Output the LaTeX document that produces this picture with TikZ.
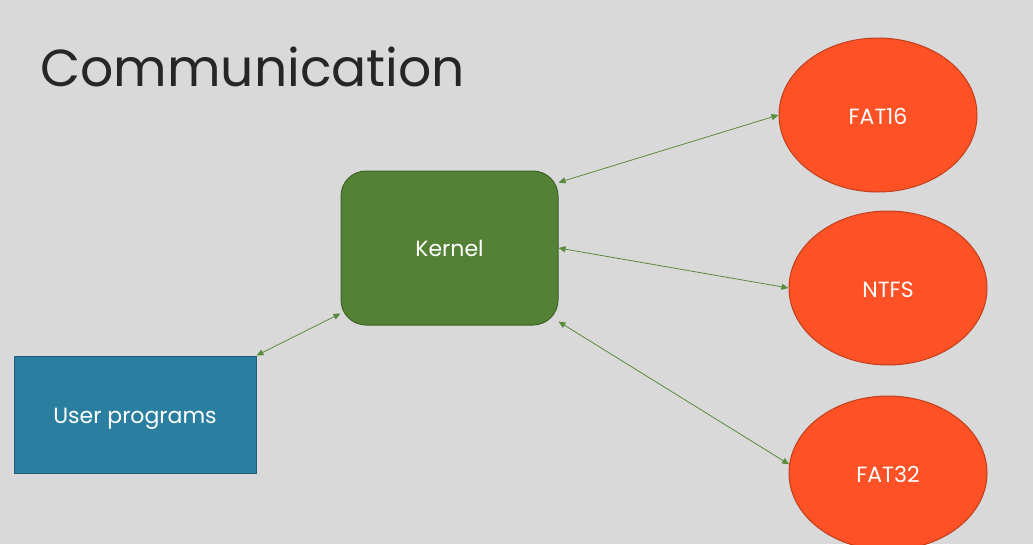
\documentclass[tikz,border=0pt]{standalone}
\usepackage{fontspec}
\setmainfont{Poppins}
\usetikzlibrary{shapes.geometric,arrows.meta}
\definecolor{bg}{HTML}{D9D9D9}
\definecolor{kgreen}{HTML}{538135}
\definecolor{kgreenb}{HTML}{3E6428}
\definecolor{ublue}{HTML}{2A7EA0}
\definecolor{ublueb}{HTML}{1F5F7A}
\definecolor{fsred}{HTML}{FF5126}
\definecolor{fsredb}{HTML}{C0401C}
\definecolor{arr}{HTML}{5A8A3C}
\definecolor{titlec}{HTML}{262626}
\begin{document}
\begin{tikzpicture}[x=1pt,y=-1pt,
  boxfont/.style={text=white,font=\fontsize{22}{26}\selectfont},
  kernelbox/.style={draw=kgreenb,fill=kgreen,rounded corners=25pt,minimum width=217pt,minimum height=154pt,line width=1pt,boxfont,inner sep=0pt},
  userbox/.style={draw=ublueb,fill=ublue,minimum width=242pt,minimum height=117pt,line width=1pt,boxfont,inner sep=0pt},
  fsnode/.style={ellipse,draw=fsredb,fill=fsred,minimum width=198pt,minimum height=154pt,line width=1pt,boxfont,inner sep=0pt},
  lbl/.style={text=white,font=\fontsize{22}{26}\selectfont,inner sep=0pt},
  link/.style={draw=arr,line width=0.8pt,{Triangle[length=7pt,width=6pt]}-{Triangle[length=7pt,width=6pt]}}]
\useasboundingbox (0,0) rectangle (1033,544);
\fill[bg] (0,0) rectangle (1033,544);
\clip (0,0) rectangle (1033,544);
\node[anchor=base west,text=titlec,font=\fontsize{52}{60}\selectfont,inner sep=0pt] (title) at (40,86) {Communication};
\node[kernelbox] (kernel) at (449.5,248) {};
\node[userbox] (user) at (135,414.5) {};
\node[fsnode] (fat16) at (878,115) {};
\node[fsnode] (ntfs) at (888,288) {};
\node[fsnode] (fat32) at (888,473) {};
\node[lbl,anchor=base] (kl) at (449.5,256) {Kernel};
\node[lbl,anchor=base] (ul) at (135,423) {User programs};
\node[lbl,anchor=base] (f16l) at (878,124) {FAT16};
\node[lbl,anchor=base] (ntl) at (888,297) {NTFS};
\node[lbl,anchor=base] (f32l) at (888,482) {FAT32};
\draw[link] (kernel.31) -- (fat16.180);
\draw[link] (kernel.east) -- (ntfs.west);
\draw[link] (kernel.-34) -- (fat32.175);
\draw[link] (user.north east) -- (kernel.211);
\end{tikzpicture}
\end{document}
